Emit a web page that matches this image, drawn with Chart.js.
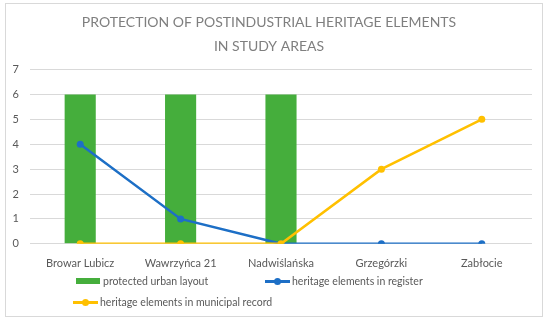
<!DOCTYPE html>
<html>
<head>
<meta charset="utf-8">
<script src="https://cdn.jsdelivr.net/npm/chart.js@4.4.1/dist/chart.umd.min.js"></script>
<style>
  html, body { margin: 0; padding: 0; background: #fff; }
  #wrap {
    position: absolute; left: 5px; top: 3px;
    width: 538px; height: 314px;
    border: 1px solid #d9d9d9; box-sizing: border-box;
  }
  #chart { position: absolute; left: 0; top: 0; }
  .legend { position: absolute; font: 10.5px Lato, sans-serif; color: #595959; white-space: nowrap; line-height: 12px; }
  .legend span.txt { vertical-align: middle; }
  .sw { display: inline-block; vertical-align: middle; position: relative; width: 25px; height: 12px; margin-right: 2px; }
  .sw.box::before { content: ''; position: absolute; left: 0; top: 3px; width: 24px; height: 6px; }
  .sw.line::before { content: ''; position: absolute; left: 0; top: 5px; width: 25px; height: 2.5px; }
  .sw.line::after { content: ''; position: absolute; left: 9px; top: 3px; width: 7px; height: 7px; border-radius: 50%; }
</style>
</head>
<body>
<div id="wrap">
  <canvas id="chart" width="536" height="312"></canvas>
  <div class="legend" id="leg1" style="left:70px; top:270px;"></div>
  <div class="legend" id="leg2" style="left:259px; top:270px;"></div>
  <div class="legend" id="leg3" style="left:67px; top:291px;"></div>
</div>
<script>
const categories = ['Browar Lubicz', 'Wawrzyńca 21', 'Nadwiślańska', 'Grzegórzki', 'Zabłocie'];
const urbanLayout = [6, 6, 6, 0, 0];
const inRegister = [4, 1, 0, 0, 0];
const municipalRecord = [0, 0, 0, 3, 5];
const yTicks = [0, 1, 2, 3, 4, 5, 6, 7];
const titleLines = ['PROTECTION OF POSTINDUSTRIAL HERITAGE ELEMENTS', 'IN STUDY AREAS'];

const GREEN = '#45ae3c', BLUE = '#1d6fc6', YELLOW = '#ffc000';
const FONT = 'Lato, "Open Sans", sans-serif';

const datasets = [
  { type: 'line', label: 'heritage elements in municipal record', data: municipalRecord,
    borderColor: YELLOW, backgroundColor: YELLOW, borderWidth: 2.5, pointRadius: 3.5,
    pointBorderWidth: 0, order: 1 },
  { type: 'line', label: 'heritage elements in register', data: inRegister,
    borderColor: BLUE, backgroundColor: BLUE, borderWidth: 2.5, pointRadius: 3.5,
    pointBorderWidth: 0, order: 2 },
  { type: 'bar', label: 'protected urban layout', data: urbanLayout,
    backgroundColor: GREEN, categoryPercentage: 1, barPercentage: 0.31, order: 3 }
];

new Chart(document.getElementById('chart'), {
  data: { labels: categories, datasets },
  options: {
    responsive: false,
    animation: false,
    layout: { padding: { left: 0, right: 10, top: 0, bottom: 41 } },
    plugins: {
      legend: { display: false },
      tooltip: { enabled: false },
      title: {
        display: true, text: titleLines, color: '#7f7f7f',
        font: { family: FONT, size: 14, weight: 'normal', lineHeight: 1.7 },
        padding: { top: 7, bottom: 11 }
      }
    },
    scales: {
      x: {
        grid: { display: false },
        border: { display: false },
        ticks: { color: '#595959', font: { family: FONT, size: 11 }, padding: 5 }
      },
      y: {
        min: 0, max: 7,
        afterBuildTicks: s => { s.ticks = yTicks.map(v => ({ value: v })); },
        afterFit: s => { s.width = 24; },
        grid: { color: '#d9d9d9', drawTicks: false },
        border: { display: false },
        ticks: { color: '#595959', font: { family: FONT, size: 11 }, padding: 11 }
      }
    }
  }
});

// legend, using the dataset styles
const legendItems = [
  ['leg1', 'box', GREEN, 'protected urban layout'],
  ['leg2', 'line', BLUE, 'heritage elements in register'],
  ['leg3', 'line', YELLOW, 'heritage elements in municipal record']
];
legendItems.forEach(([id, kind, col, txt]) => {
  const el = document.getElementById(id);
  el.innerHTML = `<span class="sw ${kind}"></span><span class="txt">${txt}</span>`;
  const st = document.createElement('style');
  st.textContent = `#${id} .sw::before, #${id} .sw::after { background: ${col}; }`;
  document.head.appendChild(st);
});
</script>
</body>
</html>
